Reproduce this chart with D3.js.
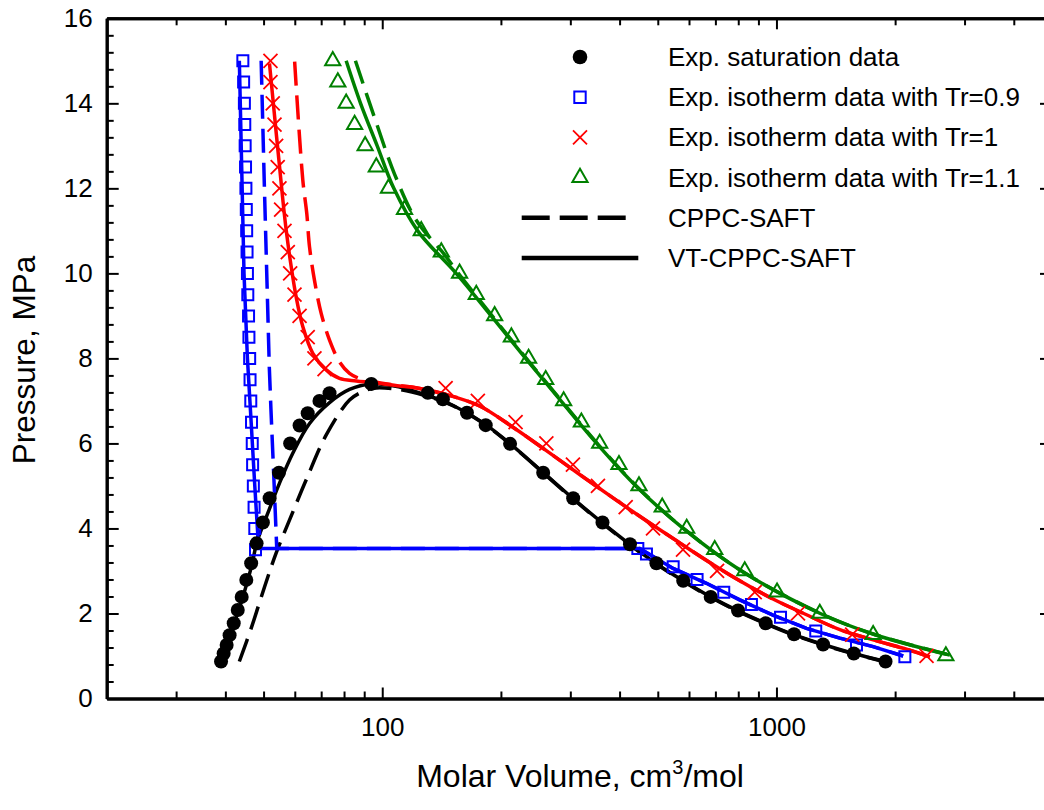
<!DOCTYPE html>
<head>
  <meta charset="utf-8">
  <script src="https://d3js.org/d3.v7.min.js"></script>
  <style>
    body { margin: 0; background: #fff; }
    text { font-family: "Liberation Sans", Arial, sans-serif; fill: #000; }
    .axis .domain { stroke: #000; stroke-width: 3; }
    .axis .tick line { stroke: #000; stroke-width: 2; }
    .axis .tick text { font-size: 26px; font-family: "Liberation Sans", Arial, sans-serif; }
  </style>
</head>
<body>
  <div id="graph"></div>
  <script>
    // experimental saturation points (liquid branch, critical point, vapour branch)
    var satV = [39.0, 39.6, 40.3, 41.0, 42.0, 43.0, 44.0, 45.2, 46.5, 48.0, 49.8, 51.8, 54.7, 58.4, 61.7, 64.7, 69.3, 73.5, 93.8,
                130.5, 142.5, 164, 183, 211, 256, 305, 362, 425, 496, 580, 681, 799, 939, 1108, 1313, 1571, 1891];
    var satP = [0.87, 1.06, 1.26, 1.49, 1.77, 2.08, 2.39, 2.79, 3.18, 3.65, 4.14, 4.71, 5.31, 6.0, 6.42, 6.71, 7.0, 7.18, 7.4,
                7.19, 7.04, 6.72, 6.43, 5.99, 5.31, 4.71, 4.14, 3.63, 3.18, 2.77, 2.39, 2.07, 1.77, 1.51, 1.27, 1.06, 0.87];

    // experimental isotherms
    var iso09V = [44.3, 44.5, 44.7, 44.8, 44.9, 45.0, 45.1, 45.2, 45.3, 45.4, 45.5, 45.6, 45.8, 45.9, 46.1, 46.2, 46.4, 46.6, 46.8, 46.9, 47.1, 47.3, 47.5, 47.7,
                  445, 468, 547, 629, 735, 864, 1024, 1258, 1596, 2117];
    var iso09P = [15, 14.5, 14, 13.5, 13, 12.5, 12, 11.5, 11, 10.5, 10, 9.5, 9, 8.5, 8, 7.5, 7, 6.5, 6, 5.5, 5, 4.5, 4, 3.5,
                  3.53, 3.4, 3.1, 2.8, 2.5, 2.21, 1.91, 1.59, 1.26, 0.98];
    var iso10V = [52.05, 52.05, 52.75, 53.3, 53.8, 54.3, 54.85, 55.4, 56.5, 57.6, 58.4, 59.9, 61.7, 64.7, 67.3, 71.4,
                  144.8, 174.8, 217.9, 260.8, 304.6, 352.5, 414.5, 486.3, 579.4, 706.9, 880.8, 1134, 1556, 2403];
    var iso10P = [15, 14.5, 14, 13.5, 13, 12.5, 12, 11.5, 11, 10.5, 10, 9.5, 9, 8.5, 8, 7.75,
                  7.3, 7.0, 6.5, 6.0, 5.5, 5.0, 4.5, 4.0, 3.5, 3.0, 2.5, 2.0, 1.5, 1.0];
    var iso11V = [74.9, 77.15, 81.0, 85.1, 90.5, 96.6, 103.7, 113.9, 125.6, 141.2, 157.1, 173.2, 192.8, 212.6, 235.1, 259.8, 288.5,
                  320.0, 356.1, 398.6, 448.0, 513.1, 592.0, 697.3, 830.9, 1003.5, 1288, 1759, 2690];
    var iso11P = [15, 14.5, 14, 13.5, 13, 12.5, 12, 11.5, 11, 10.5, 10, 9.5, 9, 8.5, 8, 7.5, 7,
                  6.5, 6, 5.5, 5, 4.5, 4, 3.5, 3, 2.5, 2, 1.5, 1];

    // VT-CPPC-SAFT (solid) and CPPC-SAFT (dashed) curves
    var vtSatV = [39.0, 41.2, 44.3, 46.8, 48.0, 51.25, 54.85, 59.3, 65.4, 73.5, 82.6, 93.8, 110, 130, 150, 180, 212, 258, 306, 362, 424, 496, 580, 681, 799, 939, 1108, 1313, 1571, 1891];
    var vtSatP = [0.87, 1.5, 2.39, 3.18, 3.65, 4.36, 5.06, 5.77, 6.47, 6.96, 7.27, 7.40, 7.33, 7.13, 6.91, 6.49, 5.98, 5.29, 4.69, 4.13, 3.63, 3.17, 2.77, 2.39, 2.06, 1.77, 1.5, 1.27, 1.06, 0.87];
    var cpSatV = [43.4, 46.5, 50.3, 53.8, 58.2, 64.1, 72.1, 82.6, 89.3, 95, 110, 130, 150, 180, 212, 258, 306, 362, 424, 496, 580, 681, 799, 939, 1108, 1313, 1571, 1891];
    var cpSatP = [0.87, 1.65, 2.63, 3.42, 4.2, 5.14, 6.2, 7.02, 7.22, 7.3, 7.27, 7.11, 6.9, 6.48, 5.97, 5.28, 4.68, 4.12, 3.62, 3.16, 2.76, 2.38, 2.05, 1.76, 1.49, 1.26, 1.05, 0.86];

    var vt09V = [43.4, 44.0, 44.6, 45.5, 46.5, 47.5, 48.3, 48.5, 449.8, 546.7, 664.3, 807, 980, 1192, 1448, 1759, 2096];
    var vt09P = [15, 12.5, 10, 8, 6.5, 5, 3.9, 3.53, 3.53, 3.06, 2.71, 2.32, 1.96, 1.65, 1.42, 1.22, 1.0];
    var cp09V = [49.3, 50.25, 51.7, 52.2, 53.2, 54.0, 449.8, 546.7, 664.3, 807, 980, 1192, 1448, 1759, 2096];
    var cp09P = [15, 12, 7.8, 6.8, 5, 3.53, 3.53, 3.06, 2.71, 2.32, 1.96, 1.65, 1.42, 1.22, 1.0];

    var vt10V = [51.75, 55.96, 57.06, 58.75, 60.47, 62.87, 66.66, 72.1, 77.9, 85.9, 94.6, 110.6, 119.6, 145.4, 176.6, 214.6, 260.8, 316.8, 384.9, 467.8, 568.5, 677.4, 807, 980, 1192, 1448, 1759, 2138, 2449];
    var vt10P = [14.94, 11.73, 11.02, 10.16, 9.45, 8.75, 8.12, 7.73, 7.53, 7.47, 7.43, 7.35, 7.32, 7.15, 6.88, 6.38, 5.83, 5.27, 4.72, 4.18, 3.66, 3.2, 2.77, 2.34, 1.97, 1.62, 1.38, 1.16, 0.98];
    var cp10V = [59.95, 62.87, 64.35, 65.38, 67.3, 70.0, 73.5, 77.9, 82.6, 88, 95, 110.6, 119.6, 145.4, 176.6, 214.6, 260.8, 316.8, 384.9, 467.8, 568.5, 677.4, 807, 980, 1192, 1448, 1759, 2138, 2449];
    var cp10P = [14.98, 12.2, 11.41, 10.63, 9.84, 9.06, 8.43, 7.92, 7.65, 7.52, 7.45, 7.36, 7.32, 7.15, 6.88, 6.38, 5.83, 5.27, 4.72, 4.18, 3.66, 3.2, 2.77, 2.34, 1.97, 1.62, 1.38, 1.16, 0.98];

    var vt11V = [81.0, 88.1, 97.1, 107, 123, 154, 189, 231, 284, 350, 440, 580, 815, 1292, 1780, 2754];
    var vt11P = [15, 14, 13, 12, 11, 10, 9, 8, 7, 6, 5, 4, 3, 2, 1.5, 1.02];
    var cp11V = [85.5, 96.6, 107.5, 122, 143.9, 156, 190, 232, 285, 351, 441, 581, 816, 1293, 1782, 2756];
    var cp11P = [15, 13.54, 12.33, 11.25, 10.44, 10, 9, 8, 7, 6, 5, 4, 3, 2, 1.5, 1.02];

    // ticks
    var xMajor = [100, 1000];
    var xMinor = [30, 40, 50, 60, 70, 80, 90, 200, 300, 400, 500, 600, 700, 800, 900, 2000, 3000, 4000];
    var yMajor = [0, 2, 4, 6, 8, 10, 12, 14, 16];
    var yMinor = [0.4, 0.8, 1.2, 1.6, 2.4, 2.8, 3.2, 3.6, 4.4, 4.8, 5.2, 5.6, 6.4, 6.8, 7.2, 7.6, 8.4, 8.8, 9.2, 9.6,
                  10.4, 10.8, 11.2, 11.6, 12.4, 12.8, 13.2, 13.6, 14.4, 14.8, 15.2, 15.6];

    var legendNames = ["Exp. saturation data", "Exp. isotherm data with Tr=0.9", "Exp. isotherm data with Tr=1",
                       "Exp. isotherm data with Tr=1.1", "CPPC-SAFT", "VT-CPPC-SAFT"];

    var width = 1044, height = 810;
    var svg = d3.select("#graph").append("svg")
      .attr("width", width)
      .attr("height", height);

    var x = d3.scaleLog().domain([20, 5000]).range([106.7, 1052]);
    var y = d3.scaleLinear().domain([0, 16]).range([698.5, 18.3]);

    // axes: major and minor ticks, all pointing inward
    function addAxis(axis, tx, ty) {
      svg.append("g").attr("class", "axis")
        .attr("transform", "translate(" + tx + "," + ty + ")")
        .call(axis);
    }
    addAxis(d3.axisBottom(x).tickValues(xMajor).tickFormat(d3.format("d")).tickSizeInner(-11).tickSizeOuter(0).tickPadding(19), 0, y(0));
    addAxis(d3.axisBottom(x).tickValues(xMinor).tickFormat("").tickSizeInner(-7).tickSizeOuter(0), 0, y(0));
    addAxis(d3.axisTop(x).tickValues(xMajor).tickFormat("").tickSizeInner(-11).tickSizeOuter(0), 0, y(16));
    addAxis(d3.axisTop(x).tickValues(xMinor).tickFormat("").tickSizeInner(-7).tickSizeOuter(0), 0, y(16));
    addAxis(d3.axisLeft(y).tickValues(yMajor).tickFormat(d3.format("d")).tickSizeInner(-12).tickSizeOuter(0).tickPadding(14), x(20), 0);
    addAxis(d3.axisLeft(y).tickValues(yMinor).tickFormat("").tickSizeInner(-7).tickSizeOuter(0), x(20), 0);
    addAxis(d3.axisRight(y).tickValues(yMajor).tickFormat("").tickSizeInner(-12).tickSizeOuter(0), x(5000), 0);
    addAxis(d3.axisRight(y).tickValues(yMinor).tickFormat("").tickSizeInner(-7).tickSizeOuter(0), x(5000), 0);

    // axis titles
    var xt = svg.append("text")
      .attr("x", 580).attr("y", 787)
      .attr("text-anchor", "middle")
      .style("font-size", "32px")
      .text("Molar Volume, cm");
    xt.append("tspan").attr("dy", -13).style("font-size", "20px").text("3");
    xt.append("tspan").attr("dy", 13).text("/mol");

    svg.append("text")
      .attr("transform", "translate(35,360) rotate(-90)")
      .attr("text-anchor", "middle")
      .style("font-size", "31.5px")
      .text("Pressure, MPa");

    // curves
    var smooth = d3.line().x(d => x(d[0])).y(d => y(d[1])).curve(d3.curveCatmullRom.alpha(0.5));
    var straight = d3.line().x(d => x(d[0])).y(d => y(d[1]));
    var dash = "24,10";

    var curves = [
      { v: cpSatV, p: cpSatP, color: "#000", dashed: true, gen: smooth },
      { v: vtSatV, p: vtSatP, color: "#000", dashed: false, gen: smooth },
      { v: cp09V, p: cp09P, color: "#0000ff", dashed: true, gen: straight },
      { v: vt09V, p: vt09P, color: "#0000ff", dashed: false, gen: straight },
      { v: cp11V, p: cp11P, color: "#008000", dashed: true, gen: smooth },
      { v: vt11V, p: vt11P, color: "#008000", dashed: false, gen: smooth },
      { v: cp10V, p: cp10P, color: "#ff0000", dashed: true, gen: smooth },
      { v: vt10V, p: vt10P, color: "#ff0000", dashed: false, gen: smooth }
    ];
    curves.forEach(function(c) {
      svg.append("path")
        .attr("d", c.gen(d3.zip(c.v, c.p)))
        .attr("fill", "none")
        .attr("stroke", c.color)
        .attr("stroke-width", 3.5)
        .attr("stroke-dasharray", c.dashed ? dash : null);
    });

    // markers
    var squareSym = d3.symbol().type(d3.symbolSquare).size(121);
    var triSym = d3.symbol().type(d3.symbolTriangle).size(100);
    var crossPath = "M-7,-7L7,7M-7,7L7,-7";

    svg.selectAll(".sq").data(d3.zip(iso09V, iso09P)).enter()
      .append("path").attr("class", "sq")
      .attr("transform", d => "translate(" + x(d[0]) + "," + y(d[1]) + ")")
      .attr("d", squareSym).attr("fill", "none").attr("stroke", "#0000ff").attr("stroke-width", 2);

    svg.selectAll(".cr").data(d3.zip(iso10V, iso10P)).enter()
      .append("path").attr("class", "cr")
      .attr("transform", d => "translate(" + x(d[0]) + "," + y(d[1]) + ")")
      .attr("d", crossPath).attr("fill", "none").attr("stroke", "#ff0000").attr("stroke-width", 1.8);

    svg.selectAll(".tri").data(d3.zip(iso11V, iso11P)).enter()
      .append("path").attr("class", "tri")
      .attr("transform", d => "translate(" + x(d[0]) + "," + y(d[1]) + ")")
      .attr("d", triSym).attr("fill", "none").attr("stroke", "#008000").attr("stroke-width", 2);

    svg.selectAll(".sat").data(d3.zip(satV, satP)).enter()
      .append("circle").attr("class", "sat")
      .attr("cx", d => x(d[0])).attr("cy", d => y(d[1]))
      .attr("r", 7).attr("fill", "#000");

    // legend
    var legX = 580, legText = 668, legY0 = 57, legDy = 40.2;
    var leg = svg.append("g");
    legendNames.forEach(function(name, i) {
      var ly = legY0 + i * legDy;
      leg.append("text").attr("x", legText).attr("y", ly + 9)
        .style("font-size", "26px").text(name);
    });
    leg.append("circle").attr("cx", legX).attr("cy", legY0).attr("r", 7.3).attr("fill", "#000");
    leg.append("path").attr("transform", "translate(" + legX + "," + (legY0 + legDy) + ")")
      .attr("d", d3.symbol().type(d3.symbolSquare).size(130)).attr("fill", "none").attr("stroke", "#0000ff").attr("stroke-width", 2);
    leg.append("path").attr("transform", "translate(" + legX + "," + (legY0 + 2 * legDy) + ")")
      .attr("d", crossPath).attr("fill", "none").attr("stroke", "#ff0000").attr("stroke-width", 1.8);
    leg.append("path").attr("transform", "translate(" + legX + "," + (legY0 + 3 * legDy) + ")")
      .attr("d", d3.symbol().type(d3.symbolTriangle).size(100)).attr("fill", "none").attr("stroke", "#008000").attr("stroke-width", 2);
    leg.append("line").attr("x1", 521.7).attr("x2", 626).attr("y1", legY0 + 4 * legDy).attr("y2", legY0 + 4 * legDy)
      .attr("stroke", "#000").attr("stroke-width", 4.5).attr("stroke-dasharray", "28,10");
    leg.append("line").attr("x1", 521.7).attr("x2", 638.3).attr("y1", legY0 + 5 * legDy).attr("y2", legY0 + 5 * legDy)
      .attr("stroke", "#000").attr("stroke-width", 4.5);
  </script>
</body>
